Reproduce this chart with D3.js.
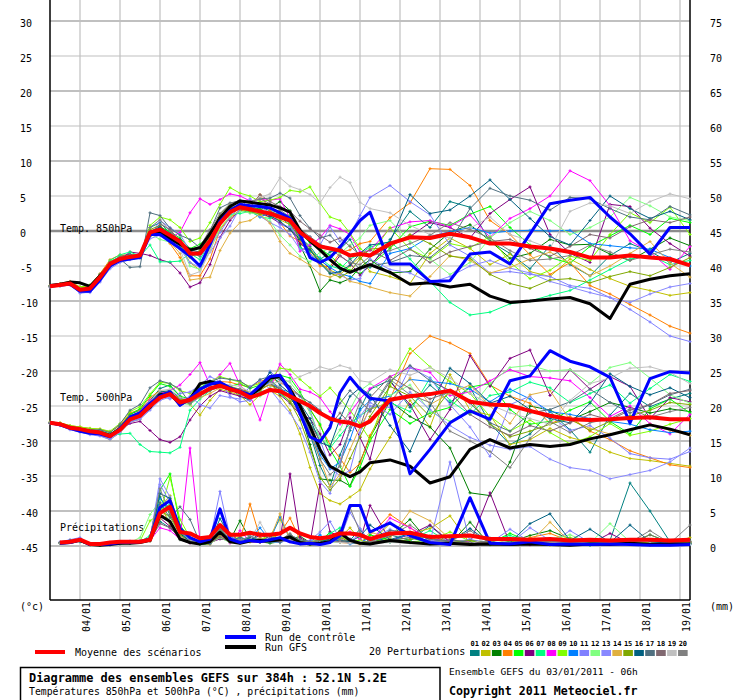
<!DOCTYPE html>
<html>
<head>
<meta charset="utf-8">
<script src="https://cdn.jsdelivr.net/npm/d3@7/dist/d3.min.js"></script>
<style>
body{margin:0;background:#fff}
svg{display:block}
text{font-family:"DejaVu Sans Mono",monospace;fill:#000}
</style>
</head>
<body>
<div id="chart"></div>
<script>
// forecast steps (hours after 03/01 06h)
const hours=[0,6,12,18,24,30,36,42,48,54,60,66,72,78,84,90,96,102,108,114,120,126,132,138,144,150,156,162,168,174,180,186,192,
  204,216,228,240,252,264,276,288,300,312,324,336,348,360,372,384];
const dayHours=[18,42,66,90,114,138,162,186,210,234,258,282,306,330,354,378];
const dayLabels=["04/01","05/01","06/01","07/01","08/01","09/01","10/01","11/01","12/01","13/01","14/01","15/01","16/01","17/01","18/01","19/01"];
const tempTicks=[30,25,20,15,10,5,0,-5,-10,-15,-20,-25,-30,-35,-40,-45];
const precipTicks=[75,70,65,60,55,50,45,40,35,30,25,20,15,10,5,0];
const memberColors=["#008080","#c0c000","#008000","#ff8000","#00ff00","#800080","#00ff80","#ff00ff","#80ff00","#0080ff",
  "#8080ff","#80ff80","#8888ff","#e0b040","#80a800","#006080","#507080","#806870","#c0c0c0","#808080"];

// ensemble mean, control run, GFS run
const mean850=[-7.9,-7.7,-7.5,-8.4,-8.2,-6.6,-4.7,-4.0,-3.7,-3.5, -0.2,0.2,-0.6,-1.5,-3.2,-3.2,-1.4,1.1,2.7,3.4, 3.1,2.8,2.5,2.0,1.5,-0.2,-1.2,-2.2,-2.5,-2.8,-3.5,-3.3,-3.5, -1.8,-0.9,-1.0,-0.4,-0.9,-1.8,-1.8,-2.2,-2.5,-3.0,-3.8,-3.8,-3.5,-3.8,-4.0,-4.9];
const gfs850=[-7.8,-7.6,-7.3,-7.4,-7.9,-6.4,-4.9,-4.1,-3.8,-3.5, -0.4,-0.2,-1.1,-1.9,-2.7,-2.4,-0.4,1.9,3.5,4.3, 4.1,3.9,3.7,3.3,2.7,0.1,-1.4,-2.7,-4.1,-5.3,-5.9,-5.3,-4.8, -5.9,-7.6,-7.4,-8.0,-7.6,-9.3,-10.2,-10.0,-9.7,-9.5,-10.4,-12.5,-7.6,-6.9,-6.4,-6.1];
const ctrl850=[-7.9,-7.7,-7.6,-8.6,-8.6,-7.0,-5.0,-4.2,-4.0,-3.8, -0.5,-0.5,-1.5,-2.5,-3.6,-5.0,-1.9,1.4,2.9,3.8, 3.6,3.5,3.3,2.6,1.8,-0.4,-3.8,-4.5,-3.8,-2.3,-0.4,1.5,2.7, -4.7,-4.7,-7.2,-7.1,-3.3,-3.0,-4.7,-0.4,3.9,4.4,4.8,2.0,-0.4,-3.3,0.5,0.5];
const mean500=[-27.4,-27.6,-28.1,-28.3,-28.6,-28.8,-29.3,-28.4,-26.9,-26.4, -25.0,-23.8,-23.3,-24.5,-24.1,-23.3,-22.5,-22.1,-22.6,-23.0, -23.8,-23.3,-22.7,-22.9,-23.6,-24.3,-25.0,-26.0,-26.8,-27.2,-27.4,-27.9,-27.2, -24.1,-23.6,-23.3,-22.8,-24.4,-24.8,-24.9,-25.7,-26.4,-26.9,-27.0,-26.9,-26.7,-26.6,-26.9,-26.9];
const gfs500=[-27.4,-27.6,-28.1,-28.3,-28.6,-28.8,-29.2,-28.3,-26.8,-26.3, -25.2,-23.4,-23.2,-24.8,-24.0,-21.8,-21.5,-22.0,-22.5,-23.0, -23.5,-22.5,-21.0,-20.8,-22.6,-25.0,-27.9,-31.2,-33.6,-34.4,-35.1,-34.4,-33.1, -32.7,-33.6,-36.0,-35.1,-31.2,-29.8,-31.0,-30.5,-30.8,-30.5,-29.7,-29.1,-28.4,-27.7,-28.3,-29.1];
const ctrl500=[-27.4,-27.7,-28.2,-28.6,-28.9,-29.0,-29.4,-28.2,-26.6,-26.0, -24.6,-23.6,-23.0,-24.9,-23.9,-22.6,-21.9,-21.6,-22.4,-22.9, -23.4,-22.1,-20.8,-20.6,-22.8,-26.1,-29.4,-30.1,-28.1,-23.1,-20.9,-22.6,-23.9, -24.3,-34.7,-31.2,-27.4,-25.7,-26.9,-21.4,-20.7,-17.1,-18.6,-19.4,-20.9,-27.4,-21.1,-20.1,-20.3];
const meanPrecip=[null,0.5,0.6,0.9,0.3,0.3,0.5,0.6,0.6,0.6, 0.9,4.7,5.6,2.0,1.8,1.1,1.3,3.0,1.6,1.6, 1.9,1.6,1.6,1.8,2.6,1.8,1.3,1.1,1.3,1.8,1.8,1.6,1.0, 1.8,1.9,1.3,1.4,1.5,1.0,1.0,0.9,1.0,0.8,0.9,0.8,0.9,0.9,0.8,0.9];
const ctrlPrecip=[null,0.4,0.5,0.9,0.2,0.2,0.3,0.5,0.5,0.6, 1.0,5.5,6.5,2.5,1.2,0.6,1.0,5.3,1.0,0.5, 0.8,0.6,0.9,1.2,0.6,0.3,0.4,0.2,0.5,1.5,5.8,5.8,2.0, 3.3,1.5,0.5,0.2,6.9,0.4,0.3,0.6,0.2,0.3,0.2,0.3,0.2,0.1,0.1,0.2];
const gfsPrecip=[null,0.4,0.5,0.8,0.2,0.1,0.2,0.4,0.4,0.5, 0.8,4.4,3.5,1.0,0.5,0.3,0.6,2.0,0.6,0.4, 0.7,0.8,0.7,0.9,1.3,0.5,0.3,0.4,0.6,1.9,0.8,0.4,0.3, 0.8,0.5,0.3,0.4,0.2,0.3,0.2,0.3,0.2,0.1,0.3,0.2,0.4,0.2,0.3,0.3];

// 20 perturbations, temperature 850hPa
const t850Members=[
[-7.9,-7.6,-7.4,-8.2,-8.0,-6.2,-4.5,-3.6,-3.3,-3.8, 0.5,1.2,-0.3,-1.4,-2.7,-3.0,-1.0,1.8,3.2,3.0, 2.6,3.4,2.9,2.1,0.8,-0.9,-2.2,-4.1,-3.0,-2.6,-1.2,-3.8,-5.2, -1.2,2.8,0.5,4.2,3.4,-1.5,-3.2,-5.4,-2.1,-4.8,-6.4,-3.5,-1.8,-2.9,-4.5,-3.2],
[-8.0,-7.8,-7.6,-8.6,-8.5,-6.9,-4.4,-3.7,-3.9,-3.2, -0.8,-0.2,-1.1,-2.0,-4.5,-5.6,-2.3,0.4,2.0,3.0, 2.8,2.4,2.0,1.6,0.9,-1.5,-2.8,-4.5,-5.6,-6.2,-5.0,-3.7,-5.8, -6.5,-7.5,-3.2,-1.0,-2.5,-4.8,-3.3,-5.8,-6.5,-4.0,-5.5,-6.8,-7.9,-8.5,-9.2,-8.8],
[-7.9,-7.7,-7.5,-8.3,-8.1,-6.7,-4.9,-4.2,-3.5,-3.3, -0.1,0.3,-0.5,-1.3,-3.0,-3.6,-1.8,1.0,2.4,3.6, 3.4,3.1,3.3,4.2,2.9,-2.0,-5.0,-8.6,-7.0,-7.4,-6.8,-5.2,-4.1, -6.0,-5.8,-2.6,-0.2,0.9,-1.4,-3.9,-3.2,-1.2,-2.0,-1.9,-3.3,-4.2,-2.6,-1.0,-2.1],
[-7.8,-7.5,-7.2,-8.0,-7.8,-6.1,-4.1,-3.4,-3.5,-3.3, -0.6,0.0,-1.8,-3.8,-6.4,-6.4,-4.0,0.2,1.9,2.8, 3.4,5.2,3.0,1.2,-0.7,-1.5,-3.1,-5.0,-5.1,-3.1,-2.7,-1.8,-1.5, 1.9,4.0,8.9,8.8,6.5,1.5,-0.5,-3.4,-6.2,-4.5,-7.8,-9.0,-10.5,-12.0,-13.6,-14.6],
[-7.9,-7.7,-7.4,-8.1,-8.0,-6.4,-4.6,-3.9,-3.8,-3.5, -0.2,0.6,-0.1,-1.0,-2.5,-1.9,-0.5,1.5,2.8,3.9, 3.5,3.0,2.4,2.6,2.2,-0.3,-1.7,-2.5,-3.5,-4.8,-5.6,-6.1,-5.0, -2.5,0.6,1.4,0.8,2.4,3.5,0.5,-2.0,-3.8,-4.6,-2.2,-0.7,0.8,-0.5,1.8,1.2],
[-7.9,-7.6,-7.6,-8.3,-8.3,-6.8,-5.0,-4.1,-3.0,-3.2, -3.5,-4.1,-4.5,-6.0,-8.0,-7.4,-4.8,-0.9,1.5,3.0, 3.2,2.6,2.0,1.1,0.3,-1.8,-2.8,-4.0,-5.4,-3.5,-4.6,-6.3,-4.9, -2.0,-0.8,1.2,0.5,-1.0,2.5,4.5,6.3,-0.5,-3.2,-4.5,3.8,3.5,0.4,-1.8,-3.6],
[-7.9,-7.8,-7.6,-8.4,-8.4,-6.5,-4.2,-3.4,-3.0,-3.6, -2.0,-4.4,-4.4,-4.3,-3.2,-4.1,-1.5,1.2,2.4,2.5, 2.8,2.0,1.8,2.4,1.0,-2.4,-2.9,-3.8,-5.0,-5.4,-4.0,-3.3,-2.3, -1.5,-4.0,-7.2,-10.2,-12.0,-11.6,-10.4,-10.0,-9.2,-8.5,-7.0,-5.5,-4.0,-3.5,-4.8,-4.2],
[-7.9,-7.7,-7.5,-8.4,-8.3,-6.6,-4.8,-4.0,-3.6,-3.5, -0.5,0.3,-1.0,-0.2,2.6,4.6,3.8,4.5,5.3,5.0, 4.3,4.5,4.4,4.6,1.8,-2.9,-2.0,-1.0,0.8,0.3,-0.5,-3.0,-2.8, 0.4,1.3,1.5,0.6,2.3,-0.9,1.8,3.2,5.0,8.6,7.2,3.6,-1.4,-3.0,-5.5,-2.2],
[-7.8,-7.6,-7.3,-8.0,-7.7,-6.2,-4.3,-3.8,-3.9,-3.5, 0.8,2.0,1.6,0.5,-1.5,-1.0,1.2,3.8,6.2,5.4, 5.0,4.2,4.4,4.8,5.8,5.6,6.3,4.0,2.0,1.5,-0.3,-2.5,-3.5, 0.5,-2.6,-4.0,-1.8,-2.4,-0.8,-4.5,-6.8,-5.6,-3.6,-4.2,-0.5,2.6,1.2,3.4,-0.5],
[-7.9,-7.7,-7.5,-8.5,-8.3,-6.7,-4.9,-4.2,-3.7,-3.6, -0.4,-0.2,-1.0,-2.2,-3.3,-2.9,-0.6,1.5,3.5,4.2, 2.9,2.0,2.6,2.4,1.5,-0.8,-3.5,-4.2,-5.2,-6.1,-6.5,-7.2,-7.5, -3.2,-2.5,-0.8,-0.1,0.5,-0.3,0.0,0.1,0.0,0.1,-1.8,-2.1,-2.4,-2.6,-3.8,-5.0],
[-8.0,-7.9,-7.7,-8.8,-8.8,-7.3,-5.4,-4.5,-4.1,-3.8, -0.8,1.5,0.5,-0.5,-2.8,-3.5,-2.2,-0.2,2.0,3.4, 4.6,3.6,2.5,0.9,0.6,-1.0,-0.8,-2.0,0.6,-1.5,-0.5,2.2,4.8, 6.5,4.2,2.3,-2.0,-3.6,-6.0,-5.8,-6.2,-6.5,-7.8,-8.2,-9.5,-11.2,-13.0,-15.0,-15.8],
[-7.9,-7.7,-7.5,-8.2,-8.1,-6.3,-4.4,-3.9,-3.8,-3.4, -0.4,-1.2,-1.6,-1.8,-5.0,-5.5,-2.8,0.4,2.1,2.8, 2.6,2.3,1.4,-0.6,-2.0,-3.6,-4.4,-3.0,-2.5,-3.2,-2.0,-1.0,0.8, 1.5,-1.5,-4.0,-6.2,-4.5,-1.0,1.2,2.8,1.5,-0.5,0.5,2.0,4.8,3.6,2.0,1.5],
[-8.0,-7.8,-7.7,-8.9,-8.7,-7.2,-5.2,-4.3,-4.0,-3.9, -1.1,-0.6,-1.5,-2.6,-4.5,-5.2,-3.0,-1.0,0.7,3.3, 3.9,2.1,1.2,0.5,-0.5,-2.6,-3.4,-4.6,-5.8,-6.3,-7.0,-6.8,-4.0, -5.5,-6.0,-7.4,-6.5,-5.0,-4.2,-5.3,-6.0,-7.2,-8.0,-8.8,-9.5,-10.2,-9.0,-8.0,-7.5],
[-7.9,-7.6,-7.4,-8.2,-8.2,-6.5,-4.5,-3.9,-3.7,-3.5, -0.2,-0.3,-1.6,-3.2,-7.0,-6.8,-6.6,-2.8,-0.3,1.2, 1.5,2.4,1.1,-1.5,-3.2,-4.0,-4.9,-6.2,-6.6,-6.0,-7.2,-7.5,-8.0, -8.8,-9.3,-6.5,-3.5,-4.2,-6.0,-5.2,-4.0,-3.0,-4.6,-6.4,-5.0,-3.2,-1.5,-4.6,-6.6],
[-7.9,-7.7,-7.5,-8.5,-8.4,-6.8,-4.6,-4.1,-3.8,-3.3, 0.2,0.8,-0.7,-2.0,-3.8,-2.8,-0.8,2.4,3.8,3.2, 2.8,2.4,2.6,2.9,1.1,-1.0,-2.5,-4.4,-6.0,-6.6,-5.8,-4.0,-2.6, -2.3,-0.5,-1.8,-3.6,-3.9,-6.2,-7.5,-8.2,-7.0,-6.8,-7.4,-6.5,-5.8,-6.4,-5.2,-3.8],
[-7.9,-7.7,-7.5,-8.3,-8.2,-6.6,-4.6,-3.8,-3.6,-3.5, -0.1,0.6,-0.4,-1.2,-3.0,-2.3,-0.3,1.9,3.3,3.6, 3.2,2.8,2.2,1.4,0.2,-1.2,-2.7,-4.6,-6.1,-5.8,-4.9,-3.2,-2.0, -1.6,5.2,2.5,3.0,5.0,7.3,4.5,1.8,-0.8,-2.0,1.5,5.0,3.2,1.8,2.8,1.6],
[-7.9,-7.8,-7.6,-8.4,-8.0,-6.2,-4.6,-4.0,-5.2,-5.1, 2.6,2.2,0.4,-0.6,-1.2,-2.4,0.0,3.3,4.0,4.3, 4.2,4.6,4.7,5.4,4.7,2.2,0.4,-1.0,-0.6,-2.2,-4.0,-5.5,-5.0, -4.5,-3.5,-3.8,-1.5,3.2,6.1,5.0,4.4,3.0,4.8,4.6,3.2,2.0,1.6,3.5,2.3],
[-7.9,-7.7,-7.5,-8.4,-8.2,-6.4,-4.4,-3.7,-3.5,-3.4, -0.6,1.0,0.2,-1.5,-3.6,-3.3,-1.2,1.8,3.0,4.0, 3.4,5.2,4.2,3.5,2.8,1.4,0.3,-0.6,-1.6,-1.0,-2.2,-3.4,-2.7, -4.2,-2.6,-4.5,-3.0,-2.2,-1.5,-1.2,-2.5,-3.6,-2.2,-0.5,-1.0,0.6,1.6,1.2,2.0],
[-7.9,-7.7,-7.5,-8.3,-8.3,-6.6,-4.8,-4.1,-3.8,-3.6, -0.3,0.2,-0.8,-2.6,-6.3,-5.8,-2.9,1.2,2.6,3.6, 3.9,4.8,5.3,7.6,6.4,5.9,5.2,4.0,6.2,7.7,6.9,4.1,3.2, 2.6,0.8,-0.5,-1.0,0.4,2.0,-0.5,-1.4,-2.5,2.8,4.0,3.6,2.5,4.2,5.3,4.6],
[-7.9,-7.7,-7.5,-8.5,-8.4,-6.9,-5.0,-4.3,-4.0,-3.8, 0.5,1.6,0.0,-1.4,-2.6,-2.2,0.2,2.5,3.9,4.4, 4.2,4.6,3.9,3.0,2.0,0.3,-0.8,-1.9,-2.5,-3.6,-4.5,-4.8,-3.6, -2.8,-1.8,-0.6,1.2,0.2,-1.0,-2.8,-4.2,-4.0,-3.5,-2.0,-3.0,-4.2,-3.4,-2.6,-3.0]
];

// 20 perturbations, temperature 500hPa
const t500Members=[
[-27.4,-27.5,-28.0,-28.2,-28.4,-28.5,-29.0,-28.0,-26.2,-25.6, -24.2,-22.5,-22.0,-23.6,-24.8,-23.6,-22.6,-21.5,-22.4,-23.6, -24.2,-21.8,-21.0,-22.8,-23.8,-25.8,-29.0,-33.5,-36.5,-32.0,-28.5,-25.4,-22.6, -21.3,-25.2,-22.0,-24.5,-22.3,-27.5,-30.5,-29.0,-25.8,-28.4,-31.6,-26.3,-23.2,-25.1,-24.0,-23.2],
[-27.5,-27.7,-28.2,-28.4,-28.7,-29.2,-29.8,-28.8,-27.3,-26.9, -24.8,-23.0,-23.2,-23.8,-24.8,-26.3,-24.2,-22.6,-23.0,-23.5, -24.8,-23.4,-22.8,-23.6,-25.6,-29.0,-33.8,-37.5,-38.5,-39.0,-38.0,-37.0,-34.0, -29.5,-24.2,-28.0,-20.5,-25.6,-26.3,-30.5,-29.8,-28.2,-29.5,-30.2,-31.6,-32.5,-32.8,-33.2,-33.6],
[-27.4,-27.6,-28.1,-28.3,-28.5,-28.7,-29.1,-28.2,-26.6,-26.1, -24.6,-23.2,-23.0,-24.2,-24.5,-23.4,-22.8,-22.2,-22.8,-23.0, -23.6,-22.4,-22.0,-22.5,-23.8,-25.8,-30.5,-35.4,-35.6,-35.6,-36.4,-33.0,-29.5, -24.3,-26.5,-28.0,-31.0,-37.4,-37.8,-33.0,-25.0,-25.6,-27.0,-25.8,-24.5,-25.2,-26.0,-25.4,-25.8],
[-27.3,-27.4,-27.8,-28.0,-28.2,-28.3,-28.7,-27.8,-26.0,-25.5, -23.8,-22.8,-23.6,-24.8,-24.0,-22.4,-21.8,-21.5,-21.6,-22.0, -22.3,-21.5,-21.0,-21.6,-22.6,-23.5,-25.4,-27.8,-30.5,-32.5,-34.5,-33.2,-29.2, -24.0,-17.5,-15.0,-16.0,-17.5,-22.0,-23.6,-24.6,-27.5,-26.5,-28.6,-29.8,-31.4,-32.4,-33.4,-33.8],
[-27.4,-27.6,-28.0,-28.2,-28.4,-28.6,-29.0,-28.0,-26.2,-25.4, -23.5,-21.8,-22.2,-23.6,-24.0,-22.4,-21.5,-21.8,-22.2,-21.8, -22.5,-22.0,-21.5,-20.6,-21.0,-23.0,-25.5,-27.6,-31.2,-33.6,-36.5,-33.8,-30.0, -25.5,-27.5,-26.0,-25.2,-22.3,-21.8,-25.5,-27.6,-27.2,-25.6,-24.4,-27.2,-29.0,-25.4,-24.0,-26.0],
[-27.4,-27.5,-28.0,-28.3,-28.6,-28.9,-29.5,-28.3,-27.5,-27.2, -28.5,-29.8,-30.2,-29.4,-27.0,-25.0,-23.6,-22.8,-23.2,-23.6, -24.0,-22.3,-21.6,-23.4,-24.6,-26.2,-26.8,-29.0,-32.0,-30.5,-26.6,-29.5,-32.6, -21.5,-24.8,-29.8,-25.5,-17.8,-22.2,-18.2,-17.0,-23.5,-19.8,-22.6,-20.8,-22.2,-26.8,-23.8,-24.4],
[-27.4,-27.6,-28.2,-28.5,-28.6,-28.9,-29.3,-29.0,-28.9,-30.5, -31.5,-31.6,-31.7,-30.9,-25.6,-24.0,-22.8,-22.2,-22.6,-23.2, -23.4,-23.0,-22.6,-23.2,-24.4,-25.8,-27.5,-29.5,-31.0,-29.2,-27.5,-26.4,-25.4, -24.5,-25.8,-21.0,-24.2,-26.2,-23.5,-23.0,-21.6,-22.4,-24.5,-23.2,-22.0,-24.6,-22.5,-20.5,-21.5],
[-27.4,-27.6,-28.1,-28.3,-28.6,-28.8,-29.2,-28.1,-26.5,-25.8, -24.2,-23.2,-22.8,-22.0,-20.5,-18.8,-22.0,-20.5,-18.9,-22.0, -23.5,-27.0,-22.5,-19.0,-20.5,-22.6,-23.0,-23.8,-25.8,-27.6,-26.0,-24.0,-22.5, -20.8,-19.5,-20.2,-23.5,-23.0,-21.4,-19.8,-20.8,-21.0,-21.4,-23.8,-26.5,-25.0,-27.5,-29.0,-26.2],
[-27.3,-27.4,-27.8,-28.0,-28.2,-28.3,-28.6,-27.5,-25.8,-25.1, -23.3,-21.6,-21.8,-22.8,-23.2,-22.0,-21.5,-20.8,-21.2,-21.6, -22.2,-21.8,-21.2,-19.6,-19.8,-21.2,-22.4,-23.6,-22.4,-24.0,-25.6,-27.6,-29.8, -22.0,-16.8,-19.4,-21.5,-23.2,-26.5,-28.6,-27.0,-28.8,-30.4,-29.4,-27.5,-29.2,-28.6,-27.6,-26.8],
[-27.4,-27.6,-28.1,-28.4,-28.7,-28.9,-29.4,-28.5,-27.0,-26.6, -25.2,-23.6,-23.0,-24.6,-24.0,-22.6,-21.4,-21.6,-22.6,-23.2, -23.8,-22.4,-21.6,-22.6,-23.0,-25.5,-28.5,-32.0,-34.0,-33.0,-29.8,-25.6,-24.2, -23.6,-21.2,-21.5,-21.8,-22.6,-24.4,-22.6,-24.0,-25.8,-26.2,-26.8,-27.2,-27.6,-28.4,-28.8,-28.6],
[-27.5,-27.8,-28.3,-28.7,-29.0,-29.2,-29.6,-28.6,-27.2,-26.8, -25.4,-23.5,-24.0,-23.2,-23.0,-22.0,-20.8,-21.5,-23.6,-24.4, -24.2,-22.8,-20.0,-21.4,-22.8,-23.6,-25.6,-29.8,-33.8,-35.0,-34.2,-28.8,-25.0, -25.2,-19.5,-21.0,-24.8,-28.0,-32.2,-24.8,-23.6,-26.4,-28.5,-27.8,-29.6,-31.8,-32.4,-32.6,-31.5],
[-27.4,-27.6,-28.1,-28.3,-28.6,-28.8,-29.2,-28.4,-27.0,-26.4, -25.0,-23.4,-23.4,-24.6,-24.8,-23.5,-22.7,-22.3,-22.5,-22.6, -23.8,-23.6,-22.4,-21.0,-21.6,-23.4,-26.0,-29.6,-30.6,-28.4,-25.5,-22.8,-21.8, -23.5,-22.0,-25.8,-27.2,-25.5,-21.8,-19.5,-19.2,-20.0,-19.8,-21.8,-19.5,-18.8,-21.0,-23.4,-24.6],
[-27.5,-27.8,-28.4,-28.7,-29.1,-29.3,-29.8,-28.8,-27.3,-26.9, -25.6,-24.2,-23.7,-24.3,-23.6,-24.8,-25.3,-23.5,-23.8,-24.0, -22.2,-21.4,-22.6,-24.4,-26.0,-28.2,-31.6,-35.8,-37.5,-33.0,-28.2,-26.5,-24.5, -26.2,-23.0,-25.5,-27.8,-29.5,-30.6,-31.2,-30.8,-32.6,-33.8,-34.2,-35.4,-34.8,-34.2,-33.0,-31.0],
[-27.4,-27.6,-28.1,-28.3,-28.6,-28.8,-29.3,-28.2,-26.4,-25.8, -24.6,-22.8,-23.0,-24.0,-24.4,-23.8,-23.2,-22.4,-22.6,-22.8, -23.6,-22.6,-22.0,-22.8,-24.2,-26.2,-28.6,-32.5,-36.5,-34.8,-31.2,-28.0,-25.5, -24.4,-21.0,-24.8,-23.2,-22.0,-25.0,-27.5,-23.4,-22.8,-27.0,-28.2,-29.0,-28.4,-27.6,-28.5,-29.2],
[-27.4,-27.6,-28.0,-28.3,-28.5,-28.8,-29.1,-28.3,-26.8,-26.3, -24.6,-23.4,-23.2,-24.0,-24.2,-22.8,-22.0,-21.6,-22.2,-22.6, -23.0,-22.8,-21.8,-23.0,-24.4,-27.0,-31.0,-35.2,-37.0,-35.4,-32.5,-29.4,-26.5, -22.2,-23.6,-26.5,-22.8,-24.2,-27.6,-29.4,-28.6,-27.6,-26.8,-28.5,-27.2,-26.4,-25.6,-24.5,-24.8],
[-27.4,-27.6,-28.0,-28.3,-28.5,-28.7,-29.1,-28.0,-26.4,-25.9, -24.4,-23.0,-22.8,-23.8,-24.3,-23.4,-22.6,-22.0,-22.4,-22.8, -23.2,-22.2,-20.2,-22.0,-23.2,-24.6,-26.8,-30.2,-30.8,-26.8,-23.6,-22.4,-23.4, -27.8,-31.5,-25.0,-19.6,-21.8,-24.6,-23.6,-25.5,-26.8,-27.4,-24.6,-20.4,-22.2,-23.4,-22.4,-23.8],
[-27.4,-27.6,-28.0,-28.2,-28.4,-28.4,-28.8,-27.6,-25.6,-24.8, -22.4,-21.4,-21.8,-22.6,-24.6,-22.8,-21.6,-21.0,-21.2,-21.4, -22.4,-21.2,-20.8,-21.2,-22.2,-23.6,-24.5,-25.6,-27.0,-24.6,-22.8,-24.2,-25.8, -21.5,-19.2,-21.4,-22.8,-24.6,-27.4,-28.6,-26.0,-25.5,-24.4,-22.6,-24.5,-26.0,-24.8,-23.4,-22.6],
[-27.4,-27.6,-28.1,-28.3,-28.6,-28.8,-29.2,-28.2,-26.6,-26.0, -24.6,-23.2,-23.2,-24.2,-24.6,-23.6,-22.8,-22.0,-22.4,-22.6, -23.2,-22.4,-21.8,-22.6,-23.4,-25.0,-27.5,-30.0,-27.8,-26.0,-27.5,-28.0,-23.8, -20.8,-22.5,-24.0,-23.0,-26.2,-28.0,-29.2,-27.8,-28.6,-27.4,-26.2,-27.0,-25.6,-24.8,-23.2,-22.8],
[-27.4,-27.6,-28.0,-28.3,-28.5,-28.7,-29.1,-28.2,-26.6,-26.0, -24.4,-22.8,-22.6,-23.8,-24.2,-23.2,-22.4,-21.8,-22.0,-22.2, -23.0,-22.4,-21.8,-21.6,-21.4,-20.8,-20.2,-19.4,-19.8,-19.2,-19.6,-21.4,-21.6, -19.8,-20.6,-19.5,-21.0,-23.2,-24.8,-26.0,-26.8,-27.6,-24.2,-21.8,-21.0,-19.6,-19.4,-20.2,-21.8],
[-27.4,-27.6,-28.1,-28.4,-28.6,-28.8,-29.3,-28.4,-26.9,-26.3, -24.8,-23.4,-23.5,-24.5,-24.6,-23.2,-22.4,-22.0,-22.4,-22.6, -23.4,-22.0,-21.4,-22.4,-23.6,-25.4,-28.8,-32.6,-34.8,-33.6,-28.0,-24.4,-25.6, -21.2,-23.4,-24.5,-28.6,-30.0,-31.5,-33.8,-29.6,-27.2,-28.8,-27.4,-26.8,-25.4,-26.6,-25.8,-25.2]
];

// 20 perturbations, precipitation (mm)
const precipMembers=[
[null,0.5,0.8,0.6,0.2,0.2,0.3,0.4,0.5,0.6, 1.0,3.5,2.6,1.2,0.8,0.3,0.5,3.9,1.4,0.6, 0.8,1.8,1.0,0.9,1.6,0.4,0.2,0.9,1.5,0.6,0.8,2.4,0.3, 1.6,0.8,2.9,0.5,0.3,0.2,0.6,0.4,0.2,0.3,0.1,0.8,9.0,5.0,0.6,0.4],
[null,0.4,0.6,0.9,0.3,0.1,0.2,0.5,0.6,0.5, 0.9,5.5,7.2,2.4,0.9,0.2,0.4,1.2,0.6,0.4, 0.9,0.8,1.4,3.8,1.2,0.6,0.4,0.3,0.8,1.2,2.6,0.9,0.4, 3.2,1.8,2.5,4.3,0.4,0.3,0.8,0.2,0.1,0.3,0.2,0.4,0.3,0.2,0.5,1.2],
[null,0.5,0.7,0.8,0.2,0.2,0.2,0.4,0.5,0.6, 0.8,7.0,4.5,1.8,0.6,0.2,0.3,1.5,0.8,3.6, 1.0,0.6,0.4,0.6,0.9,1.4,0.5,0.3,1.2,2.2,0.8,0.6,0.4, 1.3,3.8,0.4,0.3,3.4,0.2,0.6,1.5,2.2,1.0,0.2,0.6,0.3,0.5,0.2,0.3],
[null,0.4,0.6,0.7,0.2,0.1,0.2,0.3,0.4,0.5, 0.7,6.0,3.0,1.5,0.8,0.4,0.3,2.0,0.7,0.8, 6.0,1.2,0.8,1.8,4.0,0.9,0.6,0.4,0.7,0.5,0.4,0.3,1.5, 4.5,2.6,0.8,0.6,0.5,0.4,0.2,1.2,1.8,0.7,0.4,0.3,0.2,0.1,0.2,0.4],
[null,0.5,0.7,0.9,0.3,0.2,0.3,0.5,0.5,0.6, 1.2,8.0,10.3,3.0,1.0,0.3,0.5,2.6,0.6,0.5, 1.1,0.6,0.8,0.5,1.2,0.4,0.3,0.6,2.0,0.9,0.5,0.4,1.6, 0.8,1.2,0.4,0.6,0.3,0.4,1.8,0.6,0.3,0.5,0.2,0.8,0.4,1.6,0.5,0.3],
[null,0.4,0.6,0.8,0.2,0.2,0.2,0.4,0.5,0.5, 0.8,4.0,2.8,0.9,0.4,0.3,0.5,1.0,0.8,0.7, 0.9,1.5,1.2,0.8,10.3,1.2,0.4,8.8,2.0,1.4,1.0,0.6,5.8, 0.8,1.6,3.0,0.6,0.4,7.6,0.3,0.2,0.5,0.6,0.3,1.8,0.4,0.2,0.3,0.5],
[null,0.4,0.5,0.7,0.2,0.1,0.2,0.4,0.5,0.6, 1.5,5.2,6.0,2.0,0.8,0.3,0.6,1.8,0.9,0.6, 1.4,0.8,0.6,0.5,1.0,0.6,0.5,0.4,1.8,2.6,0.8,0.4,0.6, 0.5,0.8,2.2,0.4,0.3,0.8,1.5,0.6,0.3,0.4,0.2,0.3,0.5,0.2,0.3,0.4],
[null,0.5,0.6,0.8,0.3,0.2,0.3,0.5,0.5,0.6, 0.8,2.6,2.2,1.0,14.0,0.8,0.4,1.6,0.4,2.2, 0.6,0.5,0.7,0.9,0.6,0.5,0.4,0.8,1.2,0.6,2.0,0.9,0.5, 4.0,2.6,1.0,0.8,0.6,0.4,0.3,0.2,0.3,0.4,0.5,0.2,0.3,0.4,0.2,0.3],
[null,0.5,0.7,0.9,0.3,0.2,0.3,0.5,0.6,0.7, 3.6,4.6,9.8,3.8,1.2,0.4,0.6,2.4,0.8,1.3, 0.6,0.9,1.6,1.0,1.5,0.8,0.6,0.9,0.6,1.4,0.6,0.8,0.5, 1.0,0.6,0.8,2.0,0.7,0.4,0.3,0.6,0.9,1.2,0.5,0.6,0.8,0.3,0.4,0.6],
[null,0.4,0.6,0.7,0.2,0.1,0.2,0.3,0.4,0.5, 0.7,6.8,5.0,1.6,0.6,0.3,0.4,2.8,0.6,1.2, 0.9,2.6,0.8,4.2,0.9,0.3,0.6,1.6,0.5,0.9,0.3,0.5,1.2, 0.6,1.8,0.3,0.4,0.9,0.3,0.6,0.4,0.3,0.2,0.8,0.5,0.3,0.2,0.4,0.2],
[null,0.6,0.9,1.2,0.3,0.2,0.3,0.6,0.7,0.8, 1.0,8.8,6.2,1.5,0.9,0.5,0.8,7.8,1.3,0.8, 1.4,0.6,1.0,1.2,0.8,0.6,0.8,2.0,3.5,1.0,4.8,2.5,0.6, 3.4,1.5,0.6,12.0,0.5,0.4,2.4,0.6,0.3,2.2,0.5,0.4,0.6,0.3,0.2,0.4],
[null,0.4,0.6,0.8,0.2,0.1,0.2,0.4,0.5,1.2, 4.5,6.4,3.2,0.9,0.5,0.3,0.4,1.2,0.5,0.6, 0.8,0.7,0.9,0.6,1.0,0.8,0.5,0.4,0.6,0.5,0.8,0.6,0.4, 0.8,0.6,0.4,0.3,0.5,0.2,0.3,0.6,1.0,1.6,0.4,3.2,0.6,0.3,0.5,0.4],
[null,0.5,0.8,1.0,0.3,0.2,0.3,0.5,0.6,0.6, 0.9,9.6,7.0,2.2,0.8,0.4,0.5,2.0,0.7,0.6, 1.0,0.8,0.6,0.5,0.9,0.7,0.4,0.5,1.4,0.8,0.6,1.8,0.8, 2.4,1.2,0.8,0.6,0.9,0.5,0.4,2.6,0.8,0.5,0.4,0.3,0.5,0.6,0.4,0.3],
[null,0.4,0.6,0.8,0.2,0.2,0.2,0.4,0.5,0.5, 0.7,3.8,5.5,1.4,0.6,0.3,0.5,1.5,0.6,0.5, 0.8,0.6,1.0,4.6,0.8,0.5,0.3,0.6,1.2,0.9,0.5,0.4,2.0, 1.1,5.0,3.6,1.0,0.4,0.6,0.3,0.5,3.4,0.6,0.3,0.4,0.2,0.5,0.3,0.6],
[null,0.5,0.7,0.8,0.3,0.2,0.3,0.4,0.5,0.6, 0.9,5.0,4.2,1.6,0.7,0.4,0.5,1.6,1.8,0.7, 0.9,0.6,0.8,0.7,1.0,0.6,0.5,0.8,0.9,1.2,0.6,0.5,0.7, 0.6,0.9,1.5,0.5,0.8,0.4,0.6,1.0,0.4,0.5,0.3,0.6,0.4,0.5,0.3,0.4],
[null,0.4,0.6,0.8,0.2,0.2,0.2,0.4,0.5,0.6, 0.8,7.5,6.8,1.9,0.6,0.3,0.4,5.2,1.0,0.6, 1.2,0.8,0.7,0.6,1.2,0.5,0.3,0.6,1.0,0.8,0.6,1.4,3.0, 0.9,1.8,1.0,0.6,2.5,0.4,0.5,3.2,4.6,0.8,2.4,0.5,3.0,0.6,0.4,0.3],
[null,0.5,0.8,0.9,0.3,0.2,0.3,0.5,0.6,0.6, 1.0,6.2,4.0,5.6,3.8,0.5,0.6,2.4,0.8,1.2, 0.8,0.6,1.4,0.8,1.6,0.9,0.6,0.5,0.7,0.6,0.9,0.5,0.6, 2.2,2.0,0.4,0.9,0.5,0.6,0.4,0.8,0.6,1.0,0.5,0.4,0.6,0.8,0.5,0.7],
[null,0.4,0.6,0.7,0.2,0.2,0.2,0.4,0.5,0.5, 0.8,3.2,2.6,1.2,0.6,0.4,0.5,1.3,0.6,0.5, 0.9,0.6,0.8,0.6,1.0,0.6,0.5,0.4,0.8,0.6,0.5,0.4,0.6, 0.8,1.2,0.6,0.5,0.4,0.6,0.3,0.5,0.4,0.6,0.3,0.5,0.4,1.6,0.5,0.6],
[null,0.4,0.6,0.8,0.2,0.2,0.2,0.4,0.5,0.6, 0.9,4.2,3.4,1.2,0.7,0.4,0.6,1.8,0.9,0.7, 0.8,3.4,0.9,1.2,0.8,0.4,0.3,0.5,0.6,0.5,0.4,0.6,0.3, 0.5,0.4,0.6,0.5,0.3,1.2,0.4,0.5,0.6,0.2,0.4,0.3,0.2,0.4,0.3,0.2],
[null,0.5,0.7,0.9,0.3,0.2,0.3,0.5,0.6,0.6, 1.2,8.2,4.6,2.0,1.0,0.5,0.6,2.6,0.9,0.8, 1.4,1.0,0.9,0.8,1.8,0.5,0.6,0.9,1.4,0.8,5.5,2.0,0.6, 1.5,3.0,1.0,0.6,2.2,0.4,0.5,0.8,0.6,0.5,0.4,0.6,0.5,2.2,0.4,3.0]
];

const W=740, H=700;
const plot={left:50,right:690,top:0,bottom:600};

const svg=d3.select("#chart").append("svg").attr("width",W).attr("height",H);
svg.append("rect").attr("width",W).attr("height",H).attr("fill","#fff");

const x=d3.scaleLinear().domain([0,384]).range([plot.left,plot.right]);
// 7px per unit: 30 -> y 21, -45 -> y 546
const yT=d3.scaleLinear().domain([-52.714,33]).range([plot.bottom,plot.top]);
const yP=d3.scaleLinear().domain([-7.714,78]).range([plot.bottom,plot.top]);

// grid
const grid=svg.append("g");
grid.selectAll(".vg").data(dayHours).join("line")
  .attr("x1",d=>x(d)).attr("x2",d=>x(d)).attr("y1",plot.top).attr("y2",plot.bottom)
  .attr("stroke","#c0c0c0").attr("stroke-width",1.2);
grid.selectAll(".hg").data(tempTicks).join("line")
  .attr("x1",plot.left).attr("x2",plot.right)
  .attr("y1",d=>yT(d)).attr("y2",d=>yT(d))
  .attr("stroke",d=>d===0?"#8c8c8c":"#c0c0c0")
  .attr("stroke-width",d=>(d===0)?2.5:(d%10===0||d===-45)?2:1.2);

// frame
svg.append("line").attr("x1",plot.left).attr("x2",plot.left).attr("y1",0).attr("y2",plot.bottom).attr("stroke","#000").attr("stroke-width",1.5);
svg.append("line").attr("x1",plot.right).attr("x2",plot.right).attr("y1",0).attr("y2",plot.bottom).attr("stroke","#000").attr("stroke-width",1.5);
svg.append("line").attr("x1",plot.left).attr("x2",plot.right).attr("y1",plot.bottom).attr("y2",plot.bottom).attr("stroke","#000").attr("stroke-width",1.5);

// axes
const leftAxis=svg.append("g").attr("transform","translate(20,0)")
  .call(d3.axisRight(yT).tickValues(tempTicks).tickSize(0).tickPadding(0).tickFormat(d=>String(d)));
const rightAxis=svg.append("g").attr("transform","translate(710,0)")
  .call(d3.axisRight(yP).tickValues(precipTicks).tickSize(0).tickPadding(0).tickFormat(d=>String(d)));
const xAxis=svg.append("g").attr("transform",`translate(0,${plot.bottom})`)
  .call(d3.axisBottom(x).tickValues(dayHours).tickSize(0).tickFormat((d,i)=>dayLabels[i]));
[leftAxis,rightAxis,xAxis].forEach(a=>{
  a.select(".domain").remove();
  a.selectAll("text").attr("font-family","DejaVu Sans Mono").attr("font-size",10).attr("fill","#000");
});
leftAxis.selectAll("text").attr("dy","0.56em");
rightAxis.selectAll("text").attr("dy","0.56em");
xAxis.selectAll("text").attr("x",0).attr("y",0).attr("dy",0)
  .attr("text-anchor","end").attr("transform","translate(9.5,2) rotate(-90)");

svg.append("text").attr("x",20).attr("y",610).attr("font-size",10).text("(°c)");
svg.append("text").attr("x",710).attr("y",610).attr("font-size",10).text("(mm)");

// section labels
svg.append("text").attr("x",60).attr("y",yT(0)+1).attr("font-size",10).text("Temp. 850hPa");
svg.append("text").attr("x",60).attr("y",yT(-24.3)).attr("font-size",10).text("Temp. 500hPa");
svg.append("text").attr("x",60).attr("y",yP(2.1)).attr("font-size",10).text("Précipitations");

// series
const layer=svg.append("g");
function drawLine(values,scale,color,width,marks){
  const line=d3.line().defined(d=>d!=null).x((d,i)=>x(hours[i])).y(d=>scale(d));
  layer.append("path").datum(values).attr("d",line)
    .attr("fill","none").attr("stroke",color).attr("stroke-width",width).attr("stroke-linejoin","round");
  if(marks){
    const pts=values.map((v,i)=>({h:hours[i],v})).filter(p=>p.v!=null);
    layer.append("g").selectAll("path").data(pts).join("path")
      .attr("transform",p=>`translate(${x(p.h)},${scale(p.v)})`)
      .attr("d","M-1.5,0H1.5M0,-1.5V1.5").attr("stroke",color).attr("stroke-width",1);
  }
}
[[t850Members,yT],[t500Members,yT],[precipMembers,yP]].forEach(([set,scale])=>{
  set.forEach((vals,k)=>drawLine(vals,scale,memberColors[k],1,true));
});
drawLine(gfs850,yT,"#000",3,false);
drawLine(gfs500,yT,"#000",3,false);
drawLine(gfsPrecip,yP,"#000",3,false);
drawLine(ctrl850,yT,"#0000ff",3,false);
drawLine(ctrl500,yT,"#0000ff",3,false);
drawLine(ctrlPrecip,yP,"#0000ff",3,false);
drawLine(mean850,yT,"#ff0000",4,false);
drawLine(mean500,yT,"#ff0000",4,false);
drawLine(meanPrecip,yP,"#ff0000",4,false);

// legend
const leg=svg.append("g");
leg.append("line").attr("x1",35).attr("x2",65).attr("y1",652).attr("y2",652).attr("stroke","#ff0000").attr("stroke-width",4);
leg.append("text").attr("x",75).attr("y",655.5).attr("font-size",10).text("Moyenne des scénarios");
leg.append("line").attr("x1",225).attr("x2",256).attr("y1",637).attr("y2",637).attr("stroke","#0000ff").attr("stroke-width",4);
leg.append("text").attr("x",265).attr("y",640.5).attr("font-size",10).text("Run de contrôle");
leg.append("line").attr("x1",225).attr("x2",256).attr("y1",647).attr("y2",647).attr("stroke","#000").attr("stroke-width",4);
leg.append("text").attr("x",265).attr("y",650.5).attr("font-size",10).text("Run GFS");
leg.append("text").attr("x",369).attr("y",654.5).attr("font-size",10).text("20 Perturbations");
const sw=leg.selectAll(".sw").data(memberColors).join("g")
  .attr("transform",(d,i)=>`translate(${470+i*10.95},0)`);
sw.append("rect").attr("x",0).attr("y",650).attr("width",9.6).attr("height",6).attr("fill",d=>d);
sw.append("text").attr("x",4.8).attr("y",646).attr("text-anchor","middle")
  .attr("font-size",7).attr("font-weight","bold").text((d,i)=>String(i+1).padStart(2,"0"));

// caption box
svg.append("rect").attr("x",20.5).attr("y",667.5).attr("width",419.5).attr("height",40)
  .attr("fill","none").attr("stroke","#000").attr("stroke-width",1.5);
svg.append("text").attr("x",29).attr("y",681.5).attr("font-size",11.9).attr("font-weight","bold")
  .text("Diagramme des ensembles GEFS sur 384h : 52.1N 5.2E");
svg.append("text").attr("x",29).attr("y",694.5).attr("font-size",9.8)
  .text("Températures 850hPa et 500hPa (°C) , précipitations (mm)");
svg.append("text").attr("x",449).attr("y",674.5).attr("font-size",9.5)
  .text("Ensemble GEFS du 03/01/2011 - 06h");
svg.append("text").attr("x",449).attr("y",694.5).attr("font-size",11.6).attr("font-weight","bold")
  .text("Copyright 2011 Meteociel.fr");
</script>
</body>
</html>
